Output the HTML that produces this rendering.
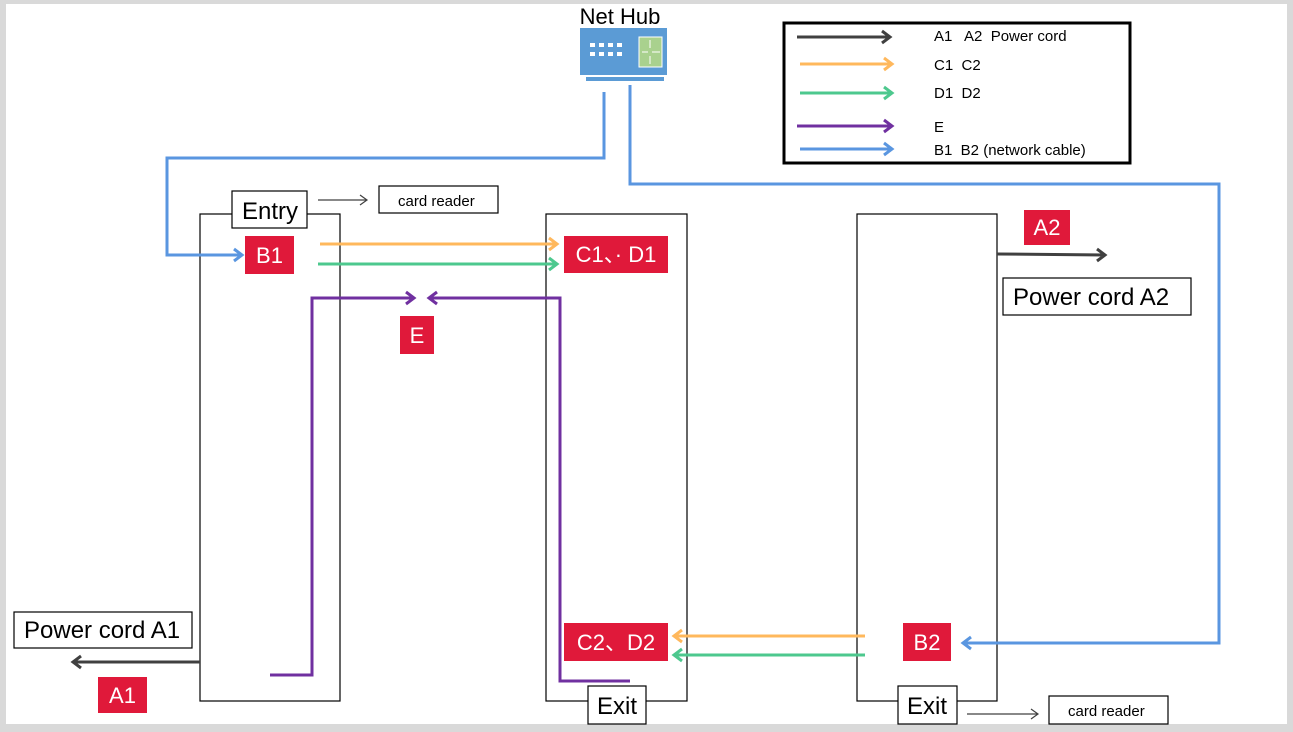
<!DOCTYPE html>
<html><head><meta charset="utf-8"><style>
html,body{margin:0;padding:0;background:#d6d6d6;}
svg{display:block;font-family:"Liberation Sans",Arial,sans-serif;}
</style></head><body>
<svg width="1293" height="732" viewBox="0 0 1293 732" xmlns="http://www.w3.org/2000/svg">
<rect x="0" y="0" width="1293" height="732" fill="#d9d9d9"/>
<rect x="6" y="4" width="1281" height="720" fill="#fff"/>
<g fill="none" stroke="#000" stroke-width="1.2">
<rect x="200" y="214" width="140" height="487"/>
<rect x="546" y="214" width="141" height="487"/>
<rect x="857" y="214" width="140" height="487"/>
</g>
<!-- labels boxes -->
<g stroke="#000" stroke-width="1.2" fill="#fff">
<rect x="232" y="191" width="75" height="37"/>
<rect x="379" y="186" width="119" height="27"/>
<rect x="1003" y="278" width="188" height="37"/>
<rect x="14" y="612" width="178" height="36"/>
<rect x="588" y="686" width="58" height="38"/>
<rect x="898" y="686" width="59" height="38"/>
<rect x="1049" y="696" width="119" height="28"/>
</g>
<g font-size="24" fill="#000">
<text x="242" y="219">Entry</text>
<text x="1013" y="305">Power cord A2</text>
<text x="24" y="638">Power cord A1</text>
<text x="597" y="714">Exit</text>
<text x="907" y="714">Exit</text>
<text x="620" y="24" text-anchor="middle" font-size="22">Net Hub</text>
</g>
<g font-size="15" fill="#000">
<text x="398" y="206">card reader</text>
<text x="1068" y="716">card reader</text>
</g>
<!-- red labels -->
<g fill="#E0193A">
<rect x="245" y="236" width="49" height="38"/>
<rect x="564" y="236" width="104" height="37"/>
<rect x="400" y="316" width="34" height="38"/>
<rect x="1024" y="210" width="46" height="35"/>
<rect x="98" y="677" width="49" height="36"/>
<rect x="564" y="623" width="104" height="38"/>
<rect x="903" y="623" width="48" height="38"/>
</g>
<g fill="#fff" font-size="22" text-anchor="middle">
<text x="269.5" y="263">B1</text>
<text x="616" y="262">C1、· D1</text>
<text x="417" y="343">E</text>
<text x="1047" y="235">A2</text>
<text x="122.5" y="703">A1</text>
<text x="616" y="650">C2、D2</text>
<text x="927" y="650">B2</text>
</g>
<!-- connectors -->
<g fill="none" stroke-width="3" stroke-linejoin="miter">
<path d="M320 244 H557 M549 238 L557 244 L549 250" stroke="#FFB85C"/>
<path d="M318 264 H557 M549 258 L557 264 L549 270" stroke="#4DC88E"/>
<path d="M865 636 H674 M682 630 L674 636 L682 642" stroke="#FFB85C"/>
<path d="M865 655 H674 M682 649 L674 655 L682 661" stroke="#4DC88E"/>
<path d="M270 675 H312 V298 H414 M406 292 L414 298 L406 304" stroke="#7030A0"/>
<path d="M630 681 H560 V298 H429 M437 292 L429 298 L437 304" stroke="#7030A0"/>
<path d="M604 92 V158 H167 V255 H242 M234 249 L242 255 L234 261" stroke="#5A96E0"/>
<path d="M630 85 V184 H1219 V643 H963 M971 637 L963 643 L971 649" stroke="#5A96E0"/>
<path d="M997 254 L1105 255 M1097 249 L1105 255 L1097 261" stroke="#404040"/>
<path d="M200 662 H73 M81 656 L73 662 L81 668" stroke="#404040"/>
</g>
<g fill="none" stroke="#404040" stroke-width="1.2">
<path d="M318 200 H367 M360 195 L367 200 L360 205"/>
<path d="M967 714 H1038 M1031 709 L1038 714 L1031 719"/>
</g>
<!-- hub -->
<rect x="580" y="28" width="87" height="47" fill="#5B9BD5"/>
<rect x="586" y="77" width="78" height="4" fill="#5B9BD5"/>
<g fill="#fff">
<rect x="590" y="43" width="5" height="4"/><rect x="599" y="43" width="5" height="4"/><rect x="608" y="43" width="5" height="4"/><rect x="617" y="43" width="5" height="4"/>
<rect x="590" y="52" width="5" height="4"/><rect x="599" y="52" width="5" height="4"/><rect x="608" y="52" width="5" height="4"/><rect x="617" y="52" width="5" height="4"/>
</g>
<rect x="639" y="37" width="23" height="30" fill="#A9D18E" stroke="#fff" stroke-width="1"/>
<g stroke="#fff" stroke-width="1" fill="none"><path d="M650 40 V48 M650 56 V64 M642 52 H648 M652 52 H660"/></g>
<!-- legend -->
<rect x="784" y="23" width="346" height="140" fill="#fff" stroke="#000" stroke-width="3"/>
<g fill="none" stroke-width="3">
<path d="M797 37 H890 M882 31 L890 37 L882 43" stroke="#404040"/>
<path d="M800 64 H892 M884 58 L892 64 L884 70" stroke="#FFB85C"/>
<path d="M800 93 H892 M884 87 L892 93 L884 99" stroke="#4DC88E"/>
<path d="M797 126 H892 M884 120 L892 126 L884 132" stroke="#7030A0"/>
<path d="M800 149 H892 M884 143 L892 149 L884 155" stroke="#5A96E0"/>
</g>
<g font-size="15" fill="#000">
<text x="934" y="41">A1 &#160; A2 &#160;Power cord</text>
<text x="934" y="70">C1 &#160;C2</text>
<text x="934" y="98">D1 &#160;D2</text>
<text x="934" y="132">E</text>
<text x="934" y="155">B1 &#160;B2 (network cable)</text>
</g>
</svg>
</body></html>
